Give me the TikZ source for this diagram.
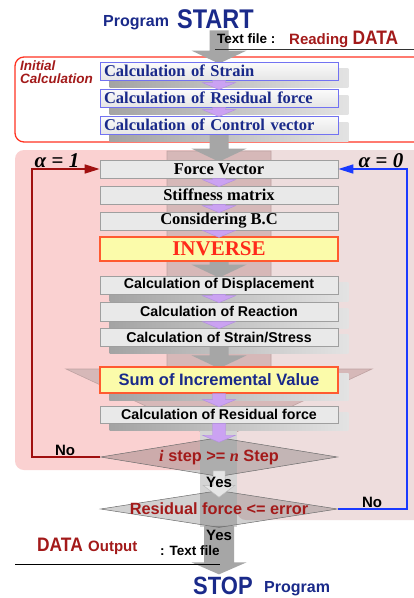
\documentclass[tikz,border=0pt]{standalone}
\usepackage{fontspec}
\usepackage{graphicx}
\setmainfont{Liberation Serif}
\setsansfont{Liberation Sans}
\usetikzlibrary{calc,shapes.geometric,arrows.meta}
\pgfdeclarelayer{bg}
\pgfdeclarelayer{shad}
\pgfdeclarelayer{arr}
\pgfsetlayers{bg,shad,arr,main}

\definecolor{navy}{HTML}{1A2A8A}
\definecolor{dred}{HTML}{A31A1A}
\definecolor{boxblue}{HTML}{7272F2}
\definecolor{regred}{HTML}{FF3322}
\definecolor{pinkL}{HTML}{FAD1D1}
\definecolor{pinkR}{HTML}{EEDDDD}
\definecolor{colfill}{HTML}{D6B8B8}
\definecolor{colline}{HTML}{BFA2A2}
\definecolor{lightcol}{HTML}{D4D4D4}
\definecolor{garrowc}{HTML}{A6A6A6}
\definecolor{violetf}{HTML}{CBA2F2}
\definecolor{violetd}{HTML}{B08CE0}
\definecolor{yfill}{HTML}{FBFBAA}
\definecolor{yline}{HTML}{FF5A30}
\definecolor{invred}{HTML}{FF2A1A}
\definecolor{loopred}{HTML}{A01010}
\definecolor{loopblue}{HTML}{1A3AFF}
\definecolor{boxgray}{HTML}{E9E9E9}

\newcommand\fsz[1]{\fontsize{#1}{#1}\selectfont}

\newcommand\garrowdraw[2]{%
 \path (#1) coordinate (ga) (#2) coordinate (gb);
 \fill[garrowc] ($(ga)+(-9.5,0)$) -- ($(ga)+(9.5,0)$) -- ($(ga|-gb)+(9.5,-11)$) -- ($(ga|-gb)+(27.5,-11)$) -- ($(ga|-gb)+(0,2)$) -- ($(ga|-gb)+(-27.5,-11)$) -- ($(ga|-gb)+(-9.5,-11)$) -- cycle;}

\newcommand\vioarrow[2]{%
 \path (#1) coordinate (va) (#2) coordinate (vb);
 \filldraw[fill=violetf, draw=violetd, line width=0.4pt] ($(va)+(-6.5,0)$) -- ($(va)+(6.5,0)$) -- ($(va|-vb)+(6.5,-6)$) -- ($(va|-vb)+(16.5,-6)$) -- ($(va|-vb)+(0,1)$) -- ($(va|-vb)+(-16.5,-6)$) -- ($(va|-vb)+(-6.5,-6)$) -- cycle;}

\newcommand\boxshadow[1]{%
 \begin{pgfonlayer}{shad}
 \shade[left color=gray!72, right color=gray!22] ($(#1.north west)+(10,7)$) rectangle ($(#1.south east)+(10,7)$);
 \end{pgfonlayer}}

\tikzset{
 ibox/.style={draw=boxblue, line width=0.8pt, top color=gray!3, bottom color=gray!20,
   minimum width=238, minimum height=18, text width=230, align=left, inner xsep=4, inner ysep=0,
   font=\bfseries\fsz{16.5}, text=navy},
 gbox/.style={draw=gray!75, line width=0.7pt, fill=boxgray, minimum width=238, minimum height=18,
   inner sep=0, font=\bfseries\fsz{16.5}, text=black},
 sbox/.style={draw=gray!75, line width=0.7pt, fill=boxgray, minimum width=238, minimum height=18,
   inner sep=0, font=\sffamily\bfseries\fsz{14.2}, text=black},
 ybox/.style={draw=yline, line width=1.2pt, fill=yfill, minimum width=238, inner sep=0},
 dia/.style={diamond, inner sep=0, fill=black, fill opacity=0.18, draw=gray!85!black, draw opacity=1, line width=0.5pt},
 lbl/.style={inner sep=0, font=\sffamily\bfseries\fsz{15}, text=black},
 dtext/.style={inner sep=0, font=\sffamily\bfseries\fsz{16.3}, text=dred},
 alab/.style={inner sep=0, font=\bfseries\itshape\fsz{21}, text=black},
}

\begin{document}
\begin{tikzpicture}[x=1pt,y=-1pt]
\useasboundingbox (0,0) rectangle (414,598);

% ---------- texts at top
\node[anchor=base west, inner sep=0, font=\sffamily\bfseries\fsz{16}, text=navy] (prog1) at (103,26) {Program};
\node[anchor=base west, inner sep=0, font=\sffamily\bfseries\fsz{27}, text=navy] (start) at (177,28) {\scalebox{0.87}[1]{START}};
\node[anchor=base west, inner sep=0, font=\sffamily\bfseries\fsz{13.5}, text=black] (tf1) at (217,43) {Text file :};
\node[anchor=base west, inner sep=0, font=\sffamily\bfseries, text=dred] (rd) at (289,44) {\fsz{15}Reading \fsz{19.5}\scalebox{0.89}[1]{DATA}};
\draw[line width=1pt, black!80] (tf1.south west) ++(-2,6) coordinate (ul1) -- (ul1 -| 414,0);

% ---------- regions
\begin{pgfonlayer}{bg}
 \fill[white] (0,0) rectangle (414,598);
 \draw[regred, line width=1.3pt, fill=white, rounded corners=9] (15,57) rectangle (440,142);
 \fill[pinkL, rounded corners=9] (15,150) rectangle (237,470);
 \fill[pinkR, rounded corners=9] (237,150) rectangle (440,520);
 \filldraw[fill=colfill, draw=colline, line width=0.6pt] (167,151) -- (271,151) -- (271,369) -- (372,369) -- (219,440) -- (66,369) -- (167,369) -- cycle;
 \fill[lightcol] (200,425) rectangle (237,527);
\end{pgfonlayer}

\node[anchor=north west, align=left, inner sep=0, font=\sffamily\bfseries\itshape\fontsize{13.5}{13}\selectfont, text=dred] (ic) at (20,61) {Initial\\Calculation};

% ---------- boxes
\node[ibox] (s1) at (219,71) {Calculation of Strain};
\node[ibox] (s2) at (219,98) {Calculation of Residual force};
\node[ibox] (s3) at (219,125) {Calculation of Control vector};
\node[gbox] (fv) at (219,169) {Force Vector};
\node[gbox] (sm) at (219,195) {Stiffness matrix};
\node[gbox] (bc) at (219,221) {Considering B.C};
\node[ybox, minimum height=24, text=invred, font=\bfseries\fsz{21}] (inv) at (219,249) {INVERSE};
\node[sbox] (dis) at (219,285) {Calculation of Displacement};
\node[sbox, minimum height=19] (rea) at (219,311.5) {Calculation of Reaction};
\node[sbox] (ss) at (219,337) {Calculation of Strain/Stress};
\node[ybox, minimum height=26, text=navy, font=\sffamily\bfseries\fsz{16.5}] (sum) at (219,380) {Sum of Incremental Value};
\node[sbox, minimum height=17] (res) at (219,414.5) {Calculation of Residual force};

\boxshadow{s1}\boxshadow{s2}\boxshadow{s3}
\boxshadow{dis}\boxshadow{rea}\boxshadow{ss}\boxshadow{sum}\boxshadow{res}

% ---------- bottom texts
\node[anchor=base west, inner sep=0, font=\sffamily\bfseries\fsz{25}, text=navy] (stop) at (193,594) {\scalebox{0.88}[1]{STOP}};
\node[anchor=base west, inner sep=0, font=\sffamily\bfseries\fsz{16}, text=navy] (prog2) at (264,592) {Program};

% ---------- diamonds
\node[dia, minimum width=237, minimum height=39] (d1) at (219,457) {};
\node[dia, minimum width=237, minimum height=37] (d2) at (219,509) {};

% ---------- big gray arrows
\begin{pgfonlayer}{arr}
 \garrowdraw{$(s1.north|-start.south)+(0,2)$}{s1.north}
 \garrowdraw{s3.south}{fv.north}
 \garrowdraw{inv.south}{dis.north}
 \garrowdraw{ss.south}{sum.north}
 \path (d2.south) coordinate (ba) (stop.north) coordinate (bb);
 \fill[garrowc] ($(ba)+(-15,-2)$) -- ($(ba)+(15,-2)$) -- ($(ba|-bb)+(15,-14)$) -- ($(ba|-bb)+(27.5,-14)$) -- ($(ba|-bb)+(0,-2)$) -- ($(ba|-bb)+(-27.5,-14)$) -- ($(ba|-bb)+(-15,-14)$) -- cycle;
\end{pgfonlayer}

% ---------- violet arrows
\vioarrow{s1.south}{s2.north}
\vioarrow{s2.south}{s3.north}
\vioarrow{fv.south}{sm.north}
\vioarrow{sm.south}{bc.north}
\vioarrow{bc.south}{inv.north}
\vioarrow{dis.south}{rea.north}
\vioarrow{rea.south}{ss.north}
\vioarrow{sum.south}{res.north}
\vioarrow{res.south}{$(d1.north)+(0,4)$}

% small light arrow between diamonds
\path (d1.south) coordinate (la) (d2.north) coordinate (lb);
\filldraw[fill=gray!20, draw=gray!55, line width=0.5pt] ($(la)+(-6,-6)$) -- ($(la)+(6,-6)$) -- ($(la|-lb)+(6,-5)$) -- ($(la|-lb)+(16,-5)$) -- ($(la|-lb)+(0,7)$) -- ($(la|-lb)+(-16,-5)$) -- ($(la|-lb)+(-6,-5)$) -- cycle;

% diamond texts
\node[dtext] (t1) at (d1.center) {{\rmfamily\itshape i} step >= {\rmfamily\itshape n} Step};
\node[dtext] (t2) at (d2.center) {Residual force <= error};

% ---------- loops
\draw[loopred, line width=1.6pt, -{Triangle[length=15pt,width=9pt]}] (d1.west) -- ++(-68,0) |- (fv.west);
\draw[loopblue, line width=1.6pt, -{Triangle[length=15pt,width=9pt]}] (d2.east) -- ++(69,0) |- (fv.east);

\node[alab] (a1) at (57,161) {α {\upshape=} 1};
\node[alab] (a0) at (381,161) {α {\upshape=} 0};
\node[lbl] (no1) at (65,450) {No};
\node[lbl] (no2) at (372,502) {No};
\node[lbl] (y1) at (219,482) {Yes};
\node[lbl] (y2) at (219,535) {Yes};

% ---------- DATA output
\node[anchor=base west, inner sep=0, font=\sffamily\bfseries, text=dred] (dout) at (37,551) {\fsz{19.5}\scalebox{0.89}[1]{DATA} \fsz{15}Output};
\node[anchor=base west, inner sep=0, font=\sffamily\bfseries\fsz{13.5}, text=black] (tf2) at (160,555) {: Text file};
\draw[line width=1pt, black] (15,564) coordinate (ll) -- (ll -| tf2.east);
\end{tikzpicture}
\end{document}
